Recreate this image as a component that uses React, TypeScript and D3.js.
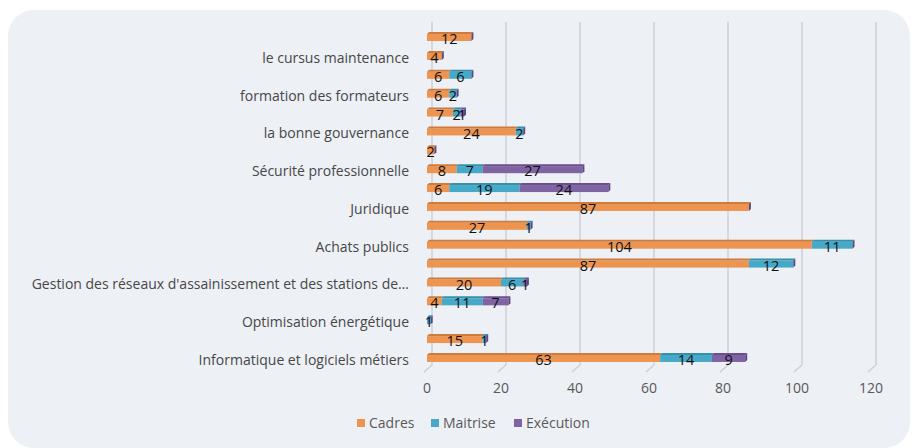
import { scaleBand, scaleLinear } from 'd3';

// Formations by category, stacked per staff level (3D-ish horizontal bars).
const categories = [
  '',
  'le cursus maintenance',
  '',
  'formation des formateurs',
  '',
  'la bonne gouvernance',
  '',
  'Sécurité professionnelle',
  '',
  'Juridique',
  '',
  'Achats publics',
  '',
  "Gestion des réseaux d'assainissement et des stations de…",
  '',
  'Optimisation énergétique',
  '',
  'Informatique et logiciels métiers',
];
const cadres = [12, 4, 6, 6, 7, 24, 2, 8, 6, 87, 27, 104, 87, 20, 4, 0, 15, 63];
const maitrise = [0, 0, 6, 2, 2, 2, 0, 7, 19, 0, 1, 11, 12, 6, 11, 1, 1, 14];
const execution = [0, 0, 0, 0, 1, 0, 0, 27, 24, 0, 0, 0, 0, 1, 7, 0, 0, 9];
const xTicks = [0, 20, 40, 60, 80, 100, 120];

const series = [
  { name: 'Cadres', values: cadres, color: '#ec9450', top: '#cf7b3c' },
  { name: 'Maitrise', values: maitrise, color: '#45a9c7', top: '#3590ab' },
  { name: 'Exécution', values: execution, color: '#8063a3', top: '#6a4f8c' },
];
const capColor = '#5e4682';

if (typeof document !== 'undefined') document.body.style.margin = '0';

export default function App() {
  const W = 921;
  const H = 448;
  const x = scaleLinear().domain([0, 120]).range([427, 871]);
  const y = scaleBand<number>()
    .domain(categories.map((_c, i) => i))
    .range([27.6, 367.4]);
  const font = '"Open Sans", "Noto Sans", sans-serif';
  const d = 2; // depth of 3D faces
  const gridTop = 22;
  const gridBot = 365;

  return (
    <svg width={W} height={H} viewBox={`0 0 ${W} ${H}`} style={{ display: 'block', background: '#fff' }}>
      <rect x={8} y={10} width={902} height={438} rx={26} fill="#edf0f5" />

      {/* gridlines + floor ticks */}
      {xTicks.map((t) => (
        <g key={t} stroke="#cdd1d6" strokeWidth={1.5} fill="none">
          <line x1={x(t) + 5} x2={x(t) + 5} y1={gridTop} y2={gridBot} />
          <line x1={x(t) + 5} x2={x(t) - 3} y1={gridBot} y2={gridBot + 7} />
        </g>
      ))}

      {/* bars */}
      {categories.map((_c, i) => {
        const cy = y(i)! + y.bandwidth() / 2;
        const top = cy - 3;
        const bot = cy + 4;
        let acc = 0;
        const segs = series.map((s) => {
          const x0 = x(acc);
          acc += s.values[i];
          return { s, v: s.values[i], x0, x1: x(acc) };
        });
        const end = x(acc);
        return (
          <g key={i}>
            {segs
              .filter((g) => g.v > 0)
              .map((g) => (
                <g key={g.s.name}>
                  <rect x={g.x0} y={top} width={g.x1 - g.x0} height={bot - top} fill={g.s.color} />
                  <path
                    d={`M${g.x0},${top} L${g.x0 + d},${top - d} L${g.x1 + d},${top - d} L${g.x1},${top} Z`}
                    fill={g.s.top}
                  />
                </g>
              ))}
            <path d={`M${end},${top} L${end + d},${top - d} L${end + d},${bot - d} L${end},${bot} Z`} fill={capColor} />
            {segs
              .filter((g) => g.v > 0)
              .map((g) => (
                <text
                  key={g.s.name}
                  x={(g.x0 + g.x1) / 2}
                  y={cy + 2}
                  dy="0.35em"
                  textAnchor="middle"
                  fill="#111"
                  style={{ fontFamily: font, fontSize: 14.5 }}
                >
                  {g.v}
                </text>
              ))}
          </g>
        );
      })}

      {/* category labels */}
      {categories.map((c, i) =>
        c ? (
          <text
            key={i}
            x={409}
            y={y(i)! + y.bandwidth() / 2 + 2}
            dy="0.35em"
            textAnchor="end"
            fill="#474747"
            style={{ fontFamily: font, fontSize: 14 }}
          >
            {c}
          </text>
        ) : null
      )}

      {/* x tick labels */}
      {xTicks.map((t) => (
        <text
          key={t}
          x={x(t)}
          y={388}
          dy="0.35em"
          textAnchor="middle"
          fill="#595959"
          style={{ fontFamily: font, fontSize: 14 }}
        >
          {t}
        </text>
      ))}

      {/* legend */}
      {series.map((s, i) => {
        const lx = [357, 431, 514][i];
        return (
          <g key={s.name}>
            <rect x={lx} y={419} width={8} height={8} fill={s.color} />
            <text x={lx + 12} y={423} dy="0.35em" fill="#595959" style={{ fontFamily: font, fontSize: 14 }}>
              {s.name}
            </text>
          </g>
        );
      })}
    </svg>
  );
}
